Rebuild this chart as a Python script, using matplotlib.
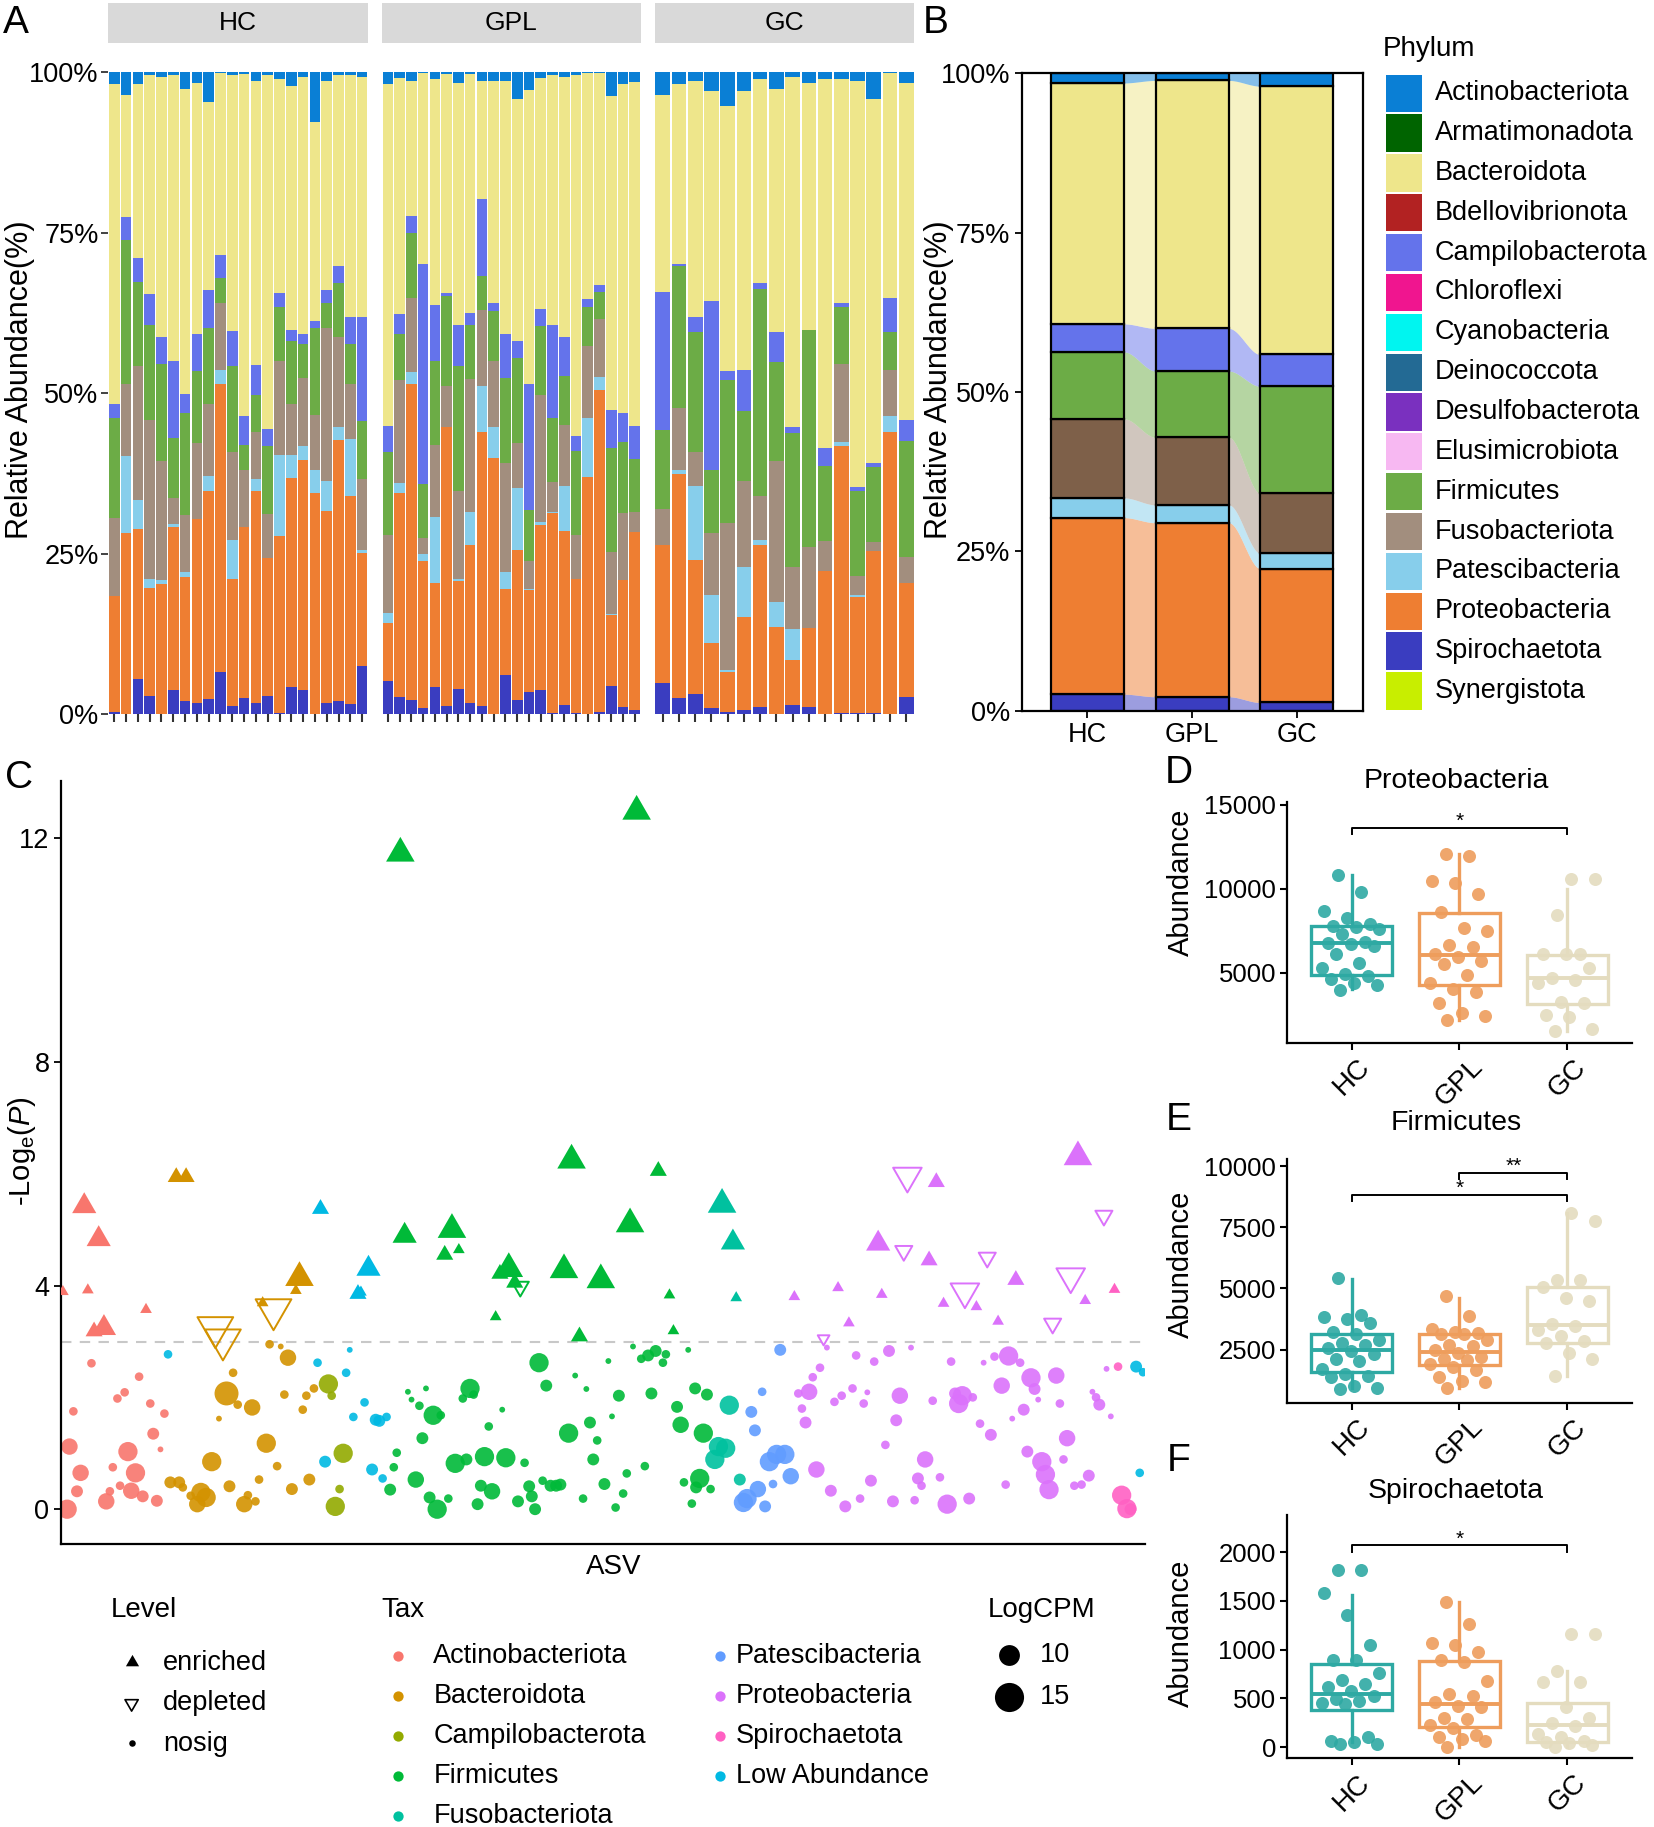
import numpy as np
import matplotlib.pyplot as plt
from matplotlib.path import Path

plt.rcParams['font.family'] = ['Liberation Sans', 'DejaVu Sans']
plt.rcParams['mathtext.fontset'] = 'custom'
plt.rcParams['mathtext.rm'] = 'Liberation Sans'
plt.rcParams['mathtext.it'] = 'Liberation Sans:italic'

# ---------------- data ----------------
groups = ['HC', 'GPL', 'GC']

phylum_colors = {
    'Actinobacteriota': '#0A7FD5', 'Armatimonadota': '#006400', 'Bacteroidota': '#EEE68B',
    'Bdellovibrionota': '#B22222', 'Campilobacterota': '#6473EB', 'Chloroflexi': '#F0158F',
    'Cyanobacteria': '#00F5F0', 'Deinococcota': '#236A94', 'Desulfobacterota': '#7A30BF',
    'Elusimicrobiota': '#F7B8F2', 'Firmicutes': '#6CAC46', 'Fusobacteriota': '#A28E7E',
    'Patescibacteria': '#87CEEB', 'Proteobacteria': '#EE7E32', 'Spirochaetota': '#3A3DC0',
    'Synergistota': '#C8EE00',
}
phyla = list(phylum_colors)

# panel A: cumulative top (%) of Spirochaetota, Proteobacteria, Patescibacteria,
# Fusobacteriota, Firmicutes, Campilobacterota, Bacteroidota; Actinobacteriota fills to 100
stack_a = ['Spirochaetota', 'Proteobacteria', 'Patescibacteria', 'Fusobacteriota',
           'Firmicutes', 'Campilobacterota', 'Bacteroidota']
hc_tops = [
    [0.3, 18.4, 18.4, 30.6, 46.1, 48.4, 98.2], [0.0, 28.2, 40.3, 51.4, 73.9, 77.4, 96.4],
    [5.5, 28.9, 33.3, 54.3, 67.3, 71.1, 98.2], [2.9, 19.7, 21.0, 45.8, 60.6, 65.4, 99.5],
    [0.1, 20.3, 20.9, 39.4, 54.5, 58.7, 99.3], [3.8, 29.1, 29.7, 33.7, 43.1, 55.1, 99.5],
    [2.1, 21.4, 22.1, 31.1, 46.9, 49.9, 97.4], [1.8, 30.4, 30.4, 42.2, 53.4, 59.3, 98.4],
    [2.4, 34.8, 37.1, 48.4, 60.1, 66.1, 95.4], [6.6, 51.4, 53.6, 64.0, 67.9, 71.6, 99.9],
    [1.3, 21.1, 27.1, 40.9, 54.3, 59.7, 99.5], [2.6, 29.1, 29.1, 38.0, 42.0, 46.4, 99.7],
    [1.7, 34.8, 36.7, 44.0, 49.7, 54.4, 98.7], [2.8, 24.3, 24.3, 31.2, 41.8, 44.4, 99.6],
    [0.2, 27.8, 40.4, 55.1, 63.5, 65.6, 98.9], [4.3, 36.8, 40.4, 48.3, 58.2, 59.8, 97.8],
    [3.7, 39.6, 41.8, 52.3, 57.6, 59.2, 99.3], [0.1, 34.5, 38.0, 46.6, 60.1, 61.3, 92.3],
    [1.7, 31.7, 36.3, 60.2, 64.1, 66.1, 98.7], [2.1, 42.7, 44.8, 58.8, 67.1, 69.8, 99.6],
    [1.6, 34.0, 42.9, 51.4, 57.6, 61.8, 99.5], [7.5, 25.1, 25.6, 36.7, 45.7, 61.8, 99.3],
]
gpl_tops = [
    [5.2, 14.2, 15.8, 27.9, 40.9, 44.9, 98.2], [2.7, 34.5, 36.0, 52.0, 59.3, 62.3, 99.1],
    [2.2, 51.4, 53.3, 64.8, 74.9, 77.6, 98.7], [1.0, 23.8, 24.9, 27.4, 35.9, 70.2, 99.9],
    [4.3, 20.5, 30.8, 42.0, 55.1, 63.7, 99.0], [1.3, 44.8, 44.8, 51.2, 65.1, 65.6, 99.7],
    [3.9, 20.8, 21.1, 34.8, 54.2, 60.6, 98.4], [1.8, 26.4, 31.5, 52.2, 60.6, 62.5, 99.7],
    [1.3, 44.0, 51.1, 63.0, 68.2, 80.2, 98.7], [0.1, 39.9, 44.7, 55.1, 62.8, 64.0, 98.7],
    [6.1, 19.5, 22.1, 39.1, 52.3, 59.3, 98.7], [2.2, 25.6, 35.2, 42.2, 55.5, 58.1, 95.9],
    [3.5, 19.3, 19.5, 23.8, 31.8, 51.4, 97.3], [3.7, 29.5, 30.0, 49.7, 60.4, 63.2, 99.1],
    [0.2, 31.3, 31.5, 36.1, 46.2, 60.6, 99.5], [1.5, 28.6, 35.5, 45.0, 52.7, 58.7, 99.3],
    [0.2, 21.1, 21.1, 27.9, 41.0, 43.3, 99.5], [0.0, 37.0, 46.1, 57.3, 63.4, 64.7, 99.9],
    [0.4, 50.5, 52.5, 61.5, 65.7, 66.9, 99.9], [4.4, 15.5, 15.6, 25.2, 41.4, 47.4, 96.3],
    [1.1, 20.9, 20.9, 31.3, 42.4, 47.0, 98.2], [0.6, 28.4, 28.4, 31.5, 39.8, 44.9, 98.5],
]
gc_tops = [
    [4.8, 26.3, 26.3, 31.9, 44.2, 65.8, 96.4], [2.6, 37.4, 38.0, 47.7, 69.8, 70.2, 98.2],
    [3.1, 24.1, 35.6, 40.8, 59.5, 61.8, 98.7], [0.9, 11.1, 18.6, 28.2, 38.0, 64.3, 97.1],
    [0.4, 6.6, 6.9, 29.8, 52.1, 53.4, 94.7], [0.6, 15.1, 23.0, 36.3, 47.2, 53.6, 97.1],
    [1.1, 26.4, 27.1, 34.0, 66.2, 67.1, 98.9], [0.1, 13.6, 17.5, 39.4, 54.8, 59.5, 97.4],
    [1.5, 8.5, 13.3, 23.0, 43.8, 44.8, 99.3], [1.1, 13.5, 13.5, 26.0, 59.9, 59.9, 98.4],
    [0.0, 22.3, 22.3, 27.0, 38.7, 41.4, 99.0], [0.2, 41.8, 42.4, 54.5, 63.4, 64.1, 99.0],
    [0.2, 18.2, 18.6, 21.6, 34.8, 35.4, 98.7], [0.2, 25.4, 25.4, 26.9, 38.5, 39.2, 95.9],
    [0.0, 44.0, 46.4, 53.6, 59.5, 64.8, 99.9], [2.7, 20.5, 20.5, 24.5, 42.5, 45.8, 98.4],
]

# panel B: mean composition (%) per group, bottom to top
stack_b = ['Spirochaetota', 'Proteobacteria', 'Patescibacteria', 'Fusobacteriota',
           'Firmicutes', 'Campilobacterota', 'Bacteroidota', 'Actinobacteriota']
b_spiro = [2.6, 2.2, 1.3]
b_proteo = [27.7, 27.3, 21.0]
b_pates = [3.1, 2.8, 2.4]
b_fuso = [12.4, 10.6, 9.4]
b_firm = [10.5, 10.4, 16.8]
b_campi = [4.4, 6.7, 5.0]
b_bact = [37.8, 38.9, 42.1]
b_actino = [1.5, 1.1, 2.0]

# panel C: (ASV rank, -ln P, LogCPM, level)  e=enriched d=depleted n=nosig
tax_colors = {
    'Actinobacteriota': '#F8766D', 'Bacteroidota': '#D39200', 'Campilobacterota': '#93AA00',
    'Firmicutes': '#00BA38', 'Fusobacteriota': '#00C19F', 'Patescibacteria': '#619CFF',
    'Proteobacteria': '#DB72FB', 'Spirochaetota': '#FF61C3', 'Low Abundance': '#00B9E3',
}
actino = [
    (0.7, 3.89, 8.6, 'e'), (7.2, 5.42, 11.5, 'e'), (11.6, 4.83, 11.5, 'e'), (8.3, 3.92, 8.6, 'e'),
    (10.2, 3.18, 9.6, 'e'), (13.2, 3.24, 11.5, 'e'), (26.0, 3.57, 8.6, 'e'),
    (2.0, 0.0, 13, 'n'), (2.7, 1.12, 11.5, 'n'), (3.9, 1.75, 8.6, 'n'), (5.0, 0.32, 9.6, 'n'),
    (6.1, 0.65, 11.5, 'n'), (9.4, 2.61, 8.6, 'n'), (13.9, 0.14, 11.5, 'n'), (15.0, 0.32, 8.6, 'n'),
    (15.9, 0.75, 8.6, 'n'), (17.3, 1.98, 8.6, 'n'), (18.1, 0.42, 8.6, 'n'), (19.5, 2.09, 8.6, 'n'),
    (20.5, 1.03, 13, 'n'), (21.5, 0.33, 11.5, 'n'), (22.8, 0.65, 13, 'n'), (23.9, 2.37, 8.6, 'n'),
    (25.0, 0.23, 9.6, 'n'), (27.3, 1.89, 8.6, 'n'), (28.2, 1.35, 9.6, 'n'), (29.3, 0.15, 9.6, 'n'),
    (30.4, 1.07, 8, 'n'), (31.6, 1.71, 8.6, 'n'),
]
bacteroid = [
    (35.2, 5.94, 9.6, 'e'), (38.2, 5.94, 9.6, 'e'), (61.5, 3.69, 8.6, 'e'), (71.6, 3.91, 8.6, 'e'),
    (72.7, 4.14, 13, 'e'), (47.1, 3.25, 16, 'd'), (49.4, 3.03, 16, 'd'), (64.8, 3.57, 16, 'd'),
    (33.4, 0.48, 9.6, 'n'), (36.1, 0.48, 9.6, 'n'), (37.2, 0.39, 8.6, 'n'), (39.6, 0.24, 8.6, 'n'),
    (41.6, 0.09, 11.5, 'n'), (42.7, 0.3, 13, 'n'), (44.3, 0.21, 13, 'n'), (46.0, 0.85, 13, 'n'),
    (48.2, 1.62, 8, 'n'), (50.5, 2.07, 16, 'n'), (51.4, 0.41, 9.6, 'n'), (52.5, 2.44, 8.6, 'n'),
    (53.9, 1.87, 8.6, 'n'), (55.9, 0.09, 11.5, 'n'), (57.0, 0.25, 8.6, 'n'), (58.3, 1.82, 11.5, 'n'),
    (59.3, 0.14, 8.6, 'n'), (60.4, 0.53, 8.6, 'n'), (62.6, 1.18, 13, 'n'), (63.6, 2.95, 8.6, 'n'),
    (65.9, 0.77, 8.6, 'n'), (67.0, 2.91, 8, 'n'), (68.1, 2.05, 8.6, 'n'), (69.2, 2.71, 11.5, 'n'),
    (70.4, 0.36, 9.6, 'n'), (73.7, 1.78, 8.6, 'n'), (74.8, 2.03, 8.6, 'n'), (75.7, 0.53, 9.6, 'n'),
    (77.1, 2.16, 8.6, 'n'),
]
campilo = [
    (81.5, 2.24, 13, 'n'), (82.5, 2.03, 8.6, 'n'), (83.6, 0.05, 13, 'n'), (84.9, 0.36, 8.6, 'n'),
    (86.0, 1.0, 13, 'n'),
]
low_abund = [
    (32.7, 2.77, 8.6, 'n'), (78.2, 2.62, 8.6, 'n'), (79.1, 5.37, 9.6, 'e'), (80.5, 0.85, 9.6, 'n'),
    (86.9, 2.44, 8.6, 'n'), (88.0, 2.85, 8, 'n'), (89.1, 1.65, 8.6, 'n'), (90.5, 3.85, 9.6, 'e'),
    (91.4, 3.88, 8.6, 'e'), (92.5, 1.91, 8.6, 'n'), (93.7, 4.3, 11.5, 'e'), (94.8, 0.71, 9.6, 'n'),
    (95.9, 1.6, 9.6, 'n'), (97.0, 1.58, 9.6, 'n'), (98.0, 0.55, 8.6, 'n'), (99.2, 1.65, 8.6, 'n'),
    (327.3, 2.55, 9.6, 'n'), (329.4, 2.45, 8.6, 'n'), (328.4, 0.65, 8.6, 'n'),
]
firmic = [
    (103.4, 11.73, 13, 'e'), (104.7, 4.89, 11.5, 'e'), (116.9, 4.55, 9.6, 'e'), (119.1, 5.0, 13, 'e'),
    (121.2, 4.64, 8.6, 'e'), (132.4, 3.44, 8.6, 'e'), (133.7, 4.21, 9.6, 'e'), (136.4, 4.3, 13, 'e'),
    (138.2, 4.05, 9.6, 'e'), (153.2, 4.28, 13, 'e'), (155.5, 6.24, 13, 'e'), (157.9, 3.09, 9.6, 'e'),
    (164.4, 4.1, 13, 'e'), (173.3, 5.1, 13, 'e'), (175.3, 12.48, 13, 'e'), (181.9, 6.05, 9.6, 'e'),
    (185.3, 3.83, 8.6, 'e'), (186.5, 3.19, 8.6, 'e'), (139.9, 3.98, 9.6, 'd'),
    (100.3, 0.35, 9.6, 'n'), (101.4, 0.75, 8.6, 'n'), (102.3, 1.01, 8.6, 'n'), (105.7, 2.1, 8, 'n'),
    (106.8, 1.96, 8, 'n'), (108.1, 0.53, 11.5, 'n'), (109.2, 1.85, 8.6, 'n'), (110.1, 1.27, 9.6, 'n'),
    (111.2, 2.16, 8, 'n'), (112.3, 0.21, 9.6, 'n'), (113.4, 1.68, 13, 'n'), (114.6, 0.0, 13, 'n'),
    (115.7, 1.68, 8.6, 'n'), (118.0, 0.19, 8.6, 'n'), (120.1, 0.82, 13, 'n'), (122.4, 1.98, 8.6, 'n'),
    (123.5, 0.89, 9.6, 'n'), (124.6, 2.16, 13, 'n'), (125.7, 2.05, 8.6, 'n'), (126.9, 0.09, 9.6, 'n'),
    (127.9, 0.42, 9.6, 'n'), (129.0, 0.94, 13, 'n'), (130.3, 1.48, 8.6, 'n'), (131.3, 0.32, 11.5, 'n'),
    (134.4, 1.78, 8, 'n'), (135.5, 0.92, 13, 'n'), (139.2, 0.14, 9.6, 'n'), (141.2, 0.83, 8.6, 'n'),
    (142.6, 0.41, 9.6, 'n'), (143.4, 0.23, 9.6, 'n'), (144.4, 0.0, 9.6, 'n'), (145.6, 2.62, 13, 'n'),
    (146.7, 0.51, 8.6, 'n'), (147.8, 2.21, 9.6, 'n'), (149.1, 0.42, 9.6, 'n'), (150.8, 0.42, 9.6, 'n'),
    (152.1, 0.44, 9.6, 'n'), (154.6, 1.36, 13, 'n'), (156.6, 2.39, 8, 'n'), (159.0, 0.19, 8.6, 'n'),
    (160.0, 2.15, 8, 'n'), (161.1, 1.55, 9.6, 'n'), (162.1, 0.89, 9.6, 'n'), (163.3, 1.23, 8.6, 'n'),
    (165.5, 0.45, 9.6, 'n'), (166.7, 2.65, 8, 'n'), (167.8, 1.66, 8, 'n'), (168.9, 0.03, 8.6, 'n'),
    (169.9, 2.03, 9.6, 'n'), (171.2, 0.28, 8.6, 'n'), (172.3, 0.64, 8.6, 'n'), (174.2, 2.91, 8, 'n'),
    (176.7, 2.69, 8.6, 'n'), (177.8, 0.77, 8.6, 'n'), (178.8, 2.75, 9.6, 'n'), (179.8, 2.07, 9.6, 'n'),
    (181.1, 2.83, 9.6, 'n'), (183.3, 2.62, 8.6, 'n'), (184.2, 2.77, 8.6, 'n'), (187.6, 1.83, 9.6, 'n'),
    (188.7, 1.51, 11.5, 'n'), (189.7, 0.48, 8.6, 'n'), (191.0, 2.85, 8, 'n'), (192.1, 0.1, 8.6, 'n'),
    (193.1, 2.16, 9.6, 'n'), (193.4, 0.39, 9.6, 'n'), (194.5, 0.55, 13, 'n'), (195.6, 1.36, 13, 'n'),
    (196.7, 2.05, 9.6, 'n'), (197.8, 0.36, 8.6, 'n'),
]
fusobac = [
    (201.3, 5.45, 13, 'e'), (204.6, 4.77, 11.5, 'e'), (205.6, 3.78, 8.6, 'e'),
    (203.5, 1.86, 13, 'n'), (200.2, 1.12, 13, 'n'), (202.4, 1.09, 13, 'n'), (199.1, 0.89, 13, 'n'),
    (206.7, 0.53, 9.6, 'n'),
]
patesci = [
    (219.0, 2.85, 9.6, 'n'), (213.5, 2.1, 8.6, 'n'), (210.2, 1.74, 9.6, 'n'), (211.3, 1.41, 9.6, 'n'),
    (215.7, 0.85, 13, 'n'), (217.9, 0.98, 13, 'n'), (220.4, 0.98, 13, 'n'), (222.2, 0.59, 11.5, 'n'),
    (216.8, 0.45, 8.6, 'n'), (212.2, 0.36, 11.5, 'n'), (208.9, 0.19, 13, 'n'), (207.8, 0.12, 13, 'n'),
    (214.4, 0.05, 9.6, 'n'),
]
proteo = [
    (223.3, 3.8, 8.6, 'e'), (236.6, 3.96, 8.6, 'e'), (239.9, 3.33, 8.6, 'e'), (248.8, 4.75, 11.5, 'e'),
    (249.9, 3.84, 8.6, 'e'), (266.5, 5.85, 9.6, 'e'), (264.3, 4.45, 9.6, 'e'), (268.7, 3.68, 8.6, 'e'),
    (278.7, 3.62, 8.6, 'e'), (285.3, 3.36, 8.6, 'e'), (290.7, 4.1, 9.6, 'e'), (309.6, 6.3, 13, 'e'),
    (311.8, 3.73, 8.6, 'e'),
    (232.2, 3.05, 8.6, 'd'), (257.7, 5.96, 13, 'd'), (256.6, 4.62, 9.6, 'd'), (275.2, 3.89, 13, 'd'),
    (282.0, 4.5, 9.6, 'd'), (301.9, 3.32, 9.6, 'd'), (307.4, 4.16, 13, 'd'), (317.5, 5.25, 9.6, 'd'),
    (224.5, 2.07, 8.6, 'n'), (225.6, 1.8, 8.6, 'n'), (226.7, 1.55, 9.6, 'n'), (227.8, 2.1, 11.5, 'n'),
    (228.9, 2.36, 8.6, 'n'), (230.0, 0.71, 11.5, 'n'), (231.1, 2.53, 8.6, 'n'), (233.2, 2.89, 8, 'n'),
    (234.4, 0.33, 9.6, 'n'), (235.5, 1.92, 8.6, 'n'), (237.7, 2.03, 8.6, 'n'), (238.8, 0.05, 9.6, 'n'),
    (241.0, 2.16, 8.6, 'n'), (242.1, 2.75, 8.6, 'n'), (243.3, 0.19, 8.6, 'n'), (244.4, 1.89, 8.6, 'n'),
    (245.5, 2.09, 8, 'n'), (246.6, 0.51, 9.6, 'n'), (247.6, 2.64, 8.6, 'n'), (251.0, 1.15, 8.6, 'n'),
    (252.1, 2.83, 9.6, 'n'), (253.3, 0.14, 9.6, 'n'), (254.3, 1.59, 9.6, 'n'), (255.4, 2.03, 11.5, 'n'),
    (258.8, 2.89, 8, 'n'), (259.9, 0.16, 8.6, 'n'), (260.9, 0.55, 9.6, 'n'), (262.0, 0.42, 8.6, 'n'),
    (263.1, 0.89, 11.5, 'n'), (265.4, 1.94, 8.6, 'n'), (267.6, 0.57, 8.6, 'n'), (269.8, 0.09, 13, 'n'),
    (271.0, 2.64, 8.6, 'n'), (272.2, 2.07, 9.6, 'n'), (273.3, 1.89, 13, 'n'), (274.4, 2.03, 13, 'n'),
    (276.5, 0.19, 9.6, 'n'), (277.6, 2.0, 8.6, 'n'), (279.8, 1.53, 8.6, 'n'), (280.9, 2.62, 8, 'n'),
    (283.1, 1.33, 9.6, 'n'), (284.2, 2.73, 8.6, 'n'), (286.4, 2.21, 11.5, 'n'), (287.6, 0.44, 8.6, 'n'),
    (288.5, 2.74, 13, 'n'), (289.6, 1.62, 8, 'n'), (292.0, 2.62, 8.6, 'n'), (293.1, 1.78, 9.6, 'n'),
    (294.2, 1.03, 9.6, 'n'), (295.3, 2.35, 13, 'n'), (296.4, 2.15, 9.6, 'n'), (297.5, 1.96, 8, 'n'),
    (298.6, 0.85, 13, 'n'), (299.7, 0.62, 13, 'n'), (300.8, 0.35, 13, 'n'), (303.0, 2.39, 11.5, 'n'),
    (304.1, 1.89, 8.6, 'n'), (305.2, 0.89, 8.6, 'n'), (306.3, 1.27, 11.5, 'n'), (308.5, 0.42, 8.6, 'n'),
    (310.7, 0.44, 8.6, 'n'), (312.9, 0.6, 9.6, 'n'), (314.0, 2.1, 8, 'n'), (315.1, 2.0, 8.6, 'n'),
    (316.1, 1.87, 9.6, 'n'), (318.3, 2.51, 8, 'n'), (319.6, 1.66, 8, 'n'),
]
spiroch = [
    (320.7, 3.94, 8.6, 'e'), (321.8, 2.55, 8.6, 'n'), (322.9, 0.25, 13, 'n'), (324.5, 0.01, 13, 'n'),
    (325.6, 0.0, 9.6, 'n'),
]
c_tax = [('Actinobacteriota', actino), ('Bacteroidota', bacteroid), ('Campilobacterota', campilo),
         ('Low Abundance', low_abund), ('Firmicutes', firmic), ('Fusobacteriota', fusobac),
         ('Patescibacteria', patesci), ('Proteobacteria', proteo), ('Spirochaetota', spiroch)]
p_cut = -np.log(0.05)

# panels D-F: per-sample abundance and box statistics (q1, median, q3, whisker lo, whisker hi)
box_colors = ['#2EA9A3', '#EE9D5C', '#E4DCBF']
prot_vals = [
    [4000, 4250, 4400, 4650, 4800, 4950, 5300, 5600, 6100, 6600, 6700, 6800, 6850, 7300, 7600,
     7750, 7800, 7900, 8250, 8700, 9800, 10800],
    [2170, 2400, 2580, 3200, 3830, 4040, 4400, 4875, 5500, 5700, 5950, 6100, 6540, 6670, 7500,
     7700, 8600, 9670, 10375, 10500, 11960, 12080],
    [1540, 1625, 2375, 2460, 3200, 3290, 4375, 4600, 4700, 5290, 6125, 6125, 6125, 8420, 10600, 10600],
]
prot_box = [(4875, 6750, 7790, 4040, 10833), (4250, 6040, 8540, 2170, 12080), (3125, 4667, 6040, 1540, 10000)]
firm_vals = [
    [890, 940, 1000, 1370, 1400, 1510, 1700, 2050, 2130, 2300, 2450, 2550, 2700, 2780, 2900, 3150,
     3200, 3575, 3770, 3830, 3900, 5415],
    [940, 1170, 1230, 1370, 1650, 1800, 1900, 2075, 2130, 2200, 2350, 2480, 2640, 2700, 2900, 3150,
     3150, 3180, 3200, 3350, 3860, 4680],
    [1425, 2130, 2360, 2780, 2840, 3070, 3300, 3450, 3530, 4480, 4620, 5050, 5330, 5330, 7740, 8100],
]
firm_box = [(1594, 2500, 3150, 940, 5390), (1850, 2415, 3150, 940, 4620), (2780, 3490, 5047, 1425, 8075)]
spir_vals = [
    [30, 36, 50, 64, 107, 443, 457, 478, 493, 520, 580, 620, 643, 693, 764, 890, 890, 1050, 1357,
     1585, 1820, 1820],
    [0, 60, 86, 107, 121, 200, 230, 286, 300, 407, 421, 465, 528, 550, 678, 871, 893, 978, 1050,
     1071, 1264, 1492],
    [0, 20, 40, 50, 60, 107, 136, 214, 243, 300, 407, 671, 671, 778, 1157, 1157],
]
spir_box = [(385, 550, 857, 50, 1564), (207, 443, 885, 0, 1492), (50, 228, 457, 0, 778)]

# ---------------- layout ----------------
W, H = 1420, 1568
fig = plt.figure(figsize=(16.54, 18.27), dpi=100)


def ax_at(x0, y0, x1, y1):
    return fig.add_axes([x0 / W, 1 - y1 / H, (x1 - x0) / W, (y1 - y0) / H])


def ftext(x, y, s, **kw):
    fig.text(x / W, 1 - y / H, s, **kw)


ov = fig.add_axes([0, 0, 1, 1])
ov.set_xlim(0, W)
ov.set_ylim(H, 0)
ov.axis('off')
ov.patch.set_alpha(0)

for lab, x, y in [('A', 14, 20), ('B', 803, 20), ('C', 16, 668), ('D', 1012, 663),
                  ('E', 1012, 961), ('F', 1012, 1254)]:
    ftext(x, y, lab, fontsize=28, ha='center', va='center')

# ---------------- panel A ----------------
facet_x = [(93, 316), (328, 550), (562, 785)]
for gi, (name, tops) in enumerate(zip(groups, [hc_tops, gpl_tops, gc_tops])):
    x0, x1 = facet_x[gi]
    ax = ax_at(x0, 62, x1, 613)
    tops = np.array(tops)
    n = len(tops)
    xs = np.arange(n)
    bottoms = np.hstack([np.zeros((n, 1)), tops[:, :-1]])
    for j, ph in enumerate(stack_a):
        ax.bar(xs, tops[:, j] - bottoms[:, j], bottom=bottoms[:, j], width=0.9,
               color=phylum_colors[ph], linewidth=0)
    ax.bar(xs, 100 - tops[:, -1], bottom=tops[:, -1], width=0.9,
           color=phylum_colors['Actinobacteriota'], linewidth=0)
    ax.set_xlim(-0.5, n - 0.5)
    ax.set_ylim(0, 100)
    for sp in ax.spines.values():
        sp.set_visible(False)
    ax.set_xticks(xs)
    ax.set_xticklabels([])
    ax.tick_params(axis='x', length=6, width=1.5, color='#333333')
    if gi == 0:
        ax.set_yticks([0, 25, 50, 75, 100])
        ax.set_yticklabels(['0%', '25%', '50%', '75%', '100%'])
        ax.tick_params(axis='y', length=5, width=1.3, color='#333333', labelsize=19.5, pad=2)
    else:
        ax.set_yticks([])
    st = ax_at(x0, 3, x1, 37)
    st.set_facecolor('#D9D9D9')
    st.set_xticks([])
    st.set_yticks([])
    for sp in st.spines.values():
        sp.set_visible(False)
    st.text(0.5, 0.5, name, transform=st.transAxes, ha='center', va='center', fontsize=19)

ftext(17, 326, 'Relative Abundance(%)', rotation=90, ha='center', va='center', fontsize=22)

# ---------------- panel B ----------------
axB = ax_at(877, 63, 1170, 610)
bw = 0.7
b_table = np.array([b_spiro, b_proteo, b_pates, b_fuso, b_firm, b_campi, b_bact, b_actino])
b_hi = np.cumsum(b_table, axis=0)
b_lo = b_hi - b_table
bar_cols = [phylum_colors[p] for p in stack_b]
bar_cols[3] = '#7E6049'
t = np.linspace(0, 1, 80)
ss = t * t * (3 - 2 * t)
for i in range(2):
    xa, xb = i + 1 + bw / 2, i + 2 - bw / 2
    xx = xa + (xb - xa) * t
    for j, ph in enumerate(stack_b):
        lo = b_lo[j, i] + (b_lo[j, i + 1] - b_lo[j, i]) * ss
        hi = b_hi[j, i] + (b_hi[j, i + 1] - b_hi[j, i]) * ss
        axB.fill_between(xx, lo, hi, color=phylum_colors[ph], alpha=0.5, linewidth=0)
for j in range(len(stack_b)):
    axB.bar([1, 2, 3], b_table[j], bottom=b_lo[j], width=bw, color=bar_cols[j],
            edgecolor='black', linewidth=1.6)
axB.set_xlim(0.37, 3.63)
axB.set_ylim(0, 100)
axB.set_yticks([0, 25, 50, 75, 100])
axB.set_yticklabels(['0%', '25%', '50%', '75%', '100%'])
axB.set_xticks([1, 2, 3])
axB.set_xticklabels(groups)
axB.tick_params(length=5, width=1.3, labelsize=19.5, pad=3)
for sp in axB.spines.values():
    sp.set_linewidth(1.6)
ftext(806, 326, 'Relative Abundance(%)', rotation=90, ha='center', va='center', fontsize=22)

# phylum legend
ftext(1187, 42, 'Phylum', fontsize=20, ha='left', va='center')
for i, ph in enumerate(phyla):
    cy = 80 + 34.2 * i
    ov.add_patch(plt.Rectangle((1190, cy - 16), 31, 32, color=phylum_colors[ph], linewidth=0))
    ov.text(1232, cy, ph, fontsize=19.5, ha='left', va='center')

# ---------------- panel C ----------------
axC = ax_at(52, 670, 983, 1325)
tri_up = Path([(0, 1), (-0.866, -0.5), (0.866, -0.5), (0, 1)], closed=True)
tri_dn = Path([(0, -1), (-0.866, 0.5), (0.866, 0.5), (0, -1)], closed=True)


def dot_px(cpm):
    return 1.3 * np.sqrt(20 + 40 * (np.asarray(cpm, dtype=float) - 8))


def tri_px(cpm):
    return 2.1 * np.sqrt(10 + 35 * (np.asarray(cpm, dtype=float) - 8))


for tax, pts in c_tax:
    col = tax_colors[tax]
    arr = np.array([p[:3] for p in pts], dtype=float)
    lv = np.array([p[3] for p in pts])
    m = lv == 'n'
    axC.scatter(arr[m, 0], arr[m, 1], s=(0.72 * dot_px(arr[m, 2])) ** 2, color=col, alpha=0.9,
                linewidths=0, zorder=2)
    m = lv == 'e'
    axC.scatter(arr[m, 0], arr[m, 1], s=(0.72 * tri_px(arr[m, 2]) / 0.866) ** 2, marker=tri_up,
                color=col, linewidths=0, zorder=3)
    m = lv == 'd'
    axC.scatter(arr[m, 0], arr[m, 1], s=(0.72 * tri_px(arr[m, 2]) / 0.866) ** 2, marker=tri_dn,
                facecolors='none', edgecolors=col, linewidths=1.4, zorder=3)
axC.axhline(p_cut, color='#C8C8C8', linestyle=(0, (5, 4)), linewidth=1.5, zorder=1)
axC.set_xlim(0, 330)
axC.set_ylim(-0.62, 13.03)
axC.set_xticks([])
axC.set_yticks([0, 4, 8, 12])
axC.tick_params(axis='y', length=5, width=1.3, labelsize=19.5, pad=3)
axC.spines['top'].set_visible(False)
axC.spines['right'].set_visible(False)
axC.spines['left'].set_linewidth(1.6)
axC.spines['bottom'].set_linewidth(1.6)
ftext(527, 1345, 'ASV', fontsize=20, ha='center', va='center')
ftext(19, 988, r'-Log$_{\mathrm{e}}$($\mathit{P}$)', rotation=90, ha='center', va='center',
      fontsize=21)

# panel C legends
ov.text(95, 1382, 'Level', fontsize=20, ha='left', va='center')
ov.scatter([113], [1426], s=120, marker=tri_up, color='black', linewidths=0)
ov.scatter([113], [1462], s=120, marker=tri_dn, facecolors='none', edgecolors='black',
           linewidths=1.2)
ov.scatter([113], [1496], s=22, color='black', linewidths=0)
for y, s in [(1427, 'enriched'), (1462, 'depleted'), (1497, 'nosig')]:
    ov.text(140, y, s, fontsize=19.5, ha='left', va='center')
ov.text(327, 1382, 'Tax', fontsize=20, ha='left', va='center')
legend_tax = ['Actinobacteriota', 'Bacteroidota', 'Campilobacterota', 'Firmicutes', 'Fusobacteriota',
              'Patescibacteria', 'Proteobacteria', 'Spirochaetota', 'Low Abundance']
for i, tax in enumerate(legend_tax):
    col_x, row = (342, i) if i < 5 else (618, i - 5)
    y = 1421 + 34.3 * row
    ov.scatter([col_x], [y], s=55, color=tax_colors[tax], linewidths=0)
    ov.text(col_x + 30 if i < 5 else col_x + 14, y, tax, fontsize=19.5, ha='left', va='center')
ov.text(848, 1382, 'LogCPM', fontsize=20, ha='left', va='center')
for y, s, lab in [(1420, 225, '10'), (1456, 440, '15')]:
    ov.scatter([866], [y], s=s, color='black', linewidths=0)
    ov.text(893, y, lab, fontsize=19.5, ha='left', va='center')

# ---------------- panels D-F ----------------
panels = [
    ('Proteobacteria', prot_vals, prot_box, (688, 895), (830, 15200), [5000, 10000, 15000],
     [(1, 3, 13625, '*')], 670, 757),
    ('Firmicutes', firm_vals, firm_box, (995, 1204), (320, 10280), [2500, 5000, 7500, 10000],
     [(1, 3, 8810, '*'), (2, 3, 9717, '**')], 964, 1085),
    ('Spirochaetota', spir_vals, spir_box, (1300, 1509), (-114, 2385), [0, 500, 1000, 1500, 2000],
     [(1, 3, 2070, '*')], 1280, 1402),
]
for title, vals, boxes, (y0, y1), ylim, yt, brackets, ty, ly in panels:
    ax = ax_at(1105, y0, 1401, y1)
    stats = [dict(q1=b[0], med=b[1], q3=b[2], whislo=b[3], whishi=b[4], fliers=[]) for b in boxes]
    for k, stt in enumerate(stats):
        c = box_colors[k]
        ax.bxp([stt], positions=[k + 1], widths=0.75, showfliers=False, patch_artist=True,
               boxprops=dict(facecolor='white', edgecolor=c, linewidth=2.4),
               medianprops=dict(color=c, linewidth=2.8),
               whiskerprops=dict(color=c, linewidth=2.4), capprops=dict(linewidth=0))
        v = np.array(vals[k], dtype=float)
        off = 0.28 * (((np.arange(len(v)) * 0.618034 + 0.3) % 1.0) * 2 - 1)
        ax.scatter(k + 1 + off, v, s=88, color=c, alpha=0.9, linewidths=0, zorder=3)
    rng = ylim[1] - ylim[0]
    for xa, xb, yb, star in brackets:
        ax.plot([xa, xa, xb, xb], [yb - 0.025 * rng, yb, yb, yb - 0.025 * rng], color='black',
                linewidth=1.4, clip_on=False)
        ax.text((xa + xb) / 2, yb - 0.012 * rng, star, ha='center', va='bottom', fontsize=15)
    ax.set_xlim(0.4, 3.6)
    ax.set_ylim(*ylim)
    ax.set_yticks(yt)
    ax.set_xticks([1, 2, 3])
    ax.set_xticklabels(groups, rotation=45, ha='center', va='top', fontsize=20)
    ax.tick_params(axis='y', labelsize=18.5)
    ax.tick_params(length=5, width=1.5, pad=3)
    ax.spines['top'].set_visible(False)
    ax.spines['right'].set_visible(False)
    ax.spines['left'].set_linewidth(1.6)
    ax.spines['bottom'].set_linewidth(1.6)
    ftext(1250, ty, title, fontsize=20.5, ha='center', va='center')
    ftext(1014, ly, 'Abundance', rotation=90, fontsize=21, ha='center', va='center')

fig.savefig('out.png', dpi=100)
